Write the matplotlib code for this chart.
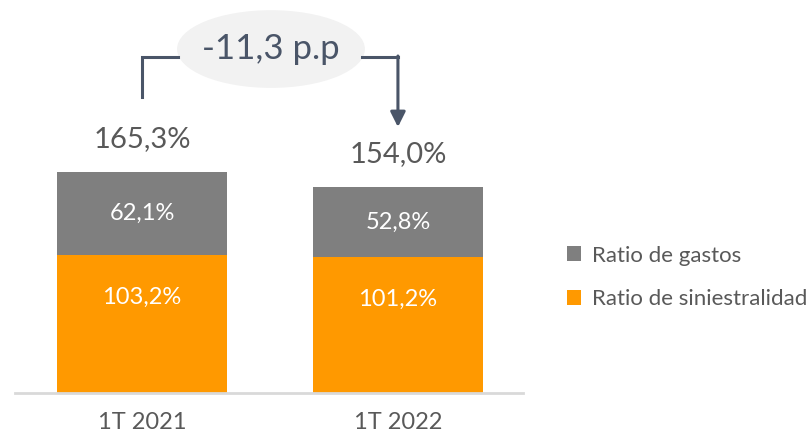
import matplotlib.pyplot as plt
from matplotlib.patches import Ellipse

periodos = ["1T 2021", "1T 2022"]
siniestralidad = [103.2, 101.2]
gastos = [62.1, 52.8]
totales = [165.3, 154.0]
diferencia = "-11,3 p.p"

naranja = "#ff9900"
gris = "#7f7f7f"
texto = "#595959"
flecha = "#4a5568"

plt.rcParams['font.family'] = ['Lato', 'DejaVu Sans']

fig = plt.figure(figsize=(8.1, 4.36), dpi=100)
ax = fig.add_axes([0.0185, 0.0986, 0.627, 0.9014])

x = range(len(periodos))
ax.bar(x, siniestralidad, width=0.664, color=naranja, label="Ratio de siniestralidad")
ax.bar(x, gastos, width=0.664, bottom=siniestralidad, color=gris, label="Ratio de gastos")

def fmt(v):
    return f"{v:.1f}".replace(".", ",") + "%"

for i in x:
    ax.text(i, siniestralidad[i] * 0.69, fmt(siniestralidad[i]), ha="center", va="center",
            color="white", fontsize=17)
    ax.text(i, siniestralidad[i] + gastos[i] / 2, fmt(gastos[i]), ha="center", va="center",
            color="white", fontsize=17)
    ax.text(i, totales[i] + 24, fmt(totales[i]), ha="center", va="center",
            color=texto, fontsize=21)

# bracket + ellipse with the difference
y_top = 250.7
ax.plot([0, 0, 0.14], [totales[0] + 55.5, y_top, y_top], color=flecha, lw=2.2,
        solid_joinstyle="miter")
ax.plot([0.86, 1], [y_top, y_top], color=flecha, lw=2.2)
ax.annotate("", xy=(1, totales[1] + 44.5), xytext=(1, y_top + 0.8),
            arrowprops=dict(arrowstyle="-|>,head_length=0.9,head_width=0.45",
                            color=flecha, lw=2.2, shrinkA=0, shrinkB=0))
ax.add_patch(Ellipse((0.504, 256.7), 0.734, 58, facecolor="#f2f2f2", edgecolor="none"))
ax.text(0.504, 256.7, diferencia, ha="center", va="center", color=flecha, fontsize=25)

ax.set_xlim(-0.496, 1.488)
ax.set_ylim(0, 293.3)
for s in ["top", "right", "left"]:
    ax.spines[s].set_visible(False)
ax.spines["bottom"].set_color("#d9d9d9")
ax.spines["bottom"].set_linewidth(2)
ax.set_yticks([])
ax.set_xticks(list(x))
ax.set_xticklabels(periodos, fontsize=17, color=texto)
ax.tick_params(axis="x", length=0, pad=14)

handles, labels = ax.get_legend_handles_labels()
fig.legend(handles[::-1], labels[::-1], loc="center left", bbox_to_anchor=(0.675, 0.364),
           frameon=False, fontsize=16, labelcolor=texto, handlelength=0.65, handleheight=0.65,
           handletextpad=0.5, labelspacing=1.05)

fig.savefig("out.png", dpi=100)
